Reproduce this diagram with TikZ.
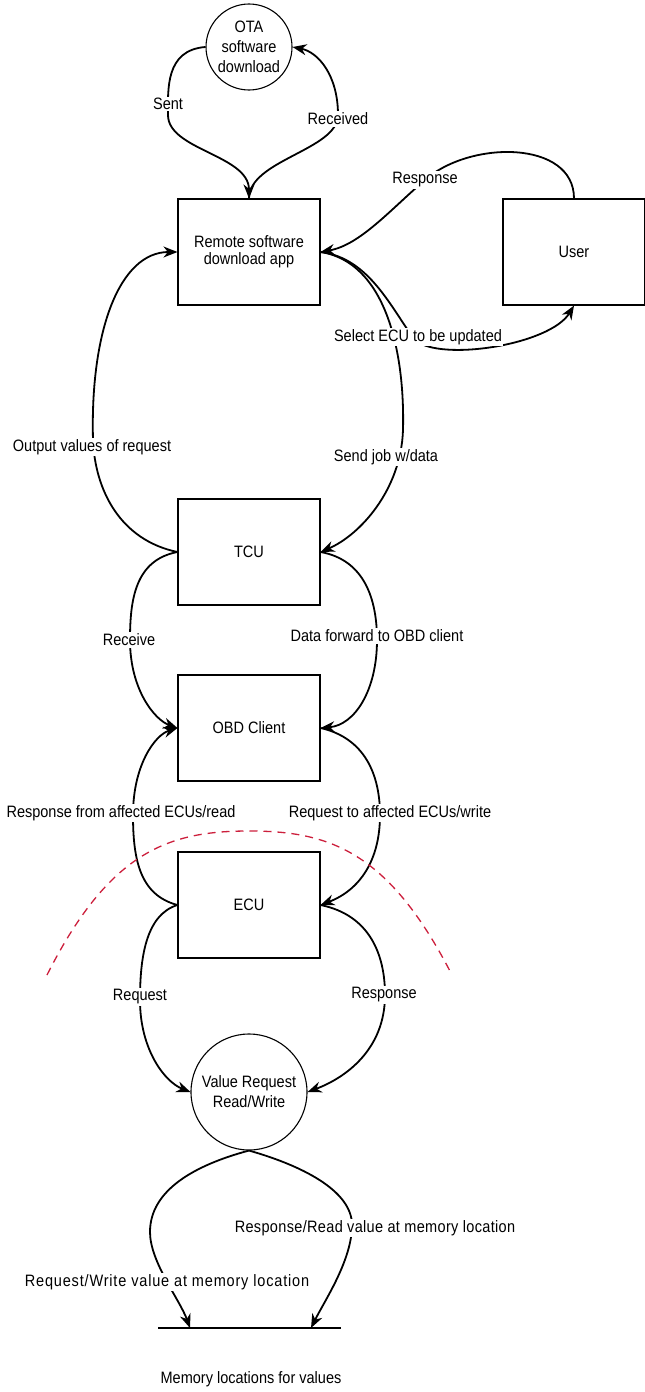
\documentclass[tikz,border=0pt]{standalone}
\usepackage{fontspec}
\setmainfont{Liberation Sans}[FakeStretch=0.88]
\usetikzlibrary{positioning,arrows.meta,backgrounds,calc}
\definecolor{boundary}{HTML}{CC1F3C}

\begin{document}
\begin{tikzpicture}[x=1pt,y=-1pt,
    font=\fontsize{16.5}{20}\selectfont,
    box/.style={draw,line width=1.1pt,fill=white,minimum width=142pt,minimum height=106pt,align=center,inner sep=0pt},
    proc/.style={draw,circle,line width=1.1pt,fill=white,align=center,inner sep=0pt},
    lbl/.style={fill=white,inner sep=1.5pt},
    flow/.style={line width=1.8pt,-{Stealth[length=14pt,width=11pt,inset=4.5pt]}}]
    \useasboundingbox (0,0) rectangle (645,1392);

    % nodes
    \node[proc,minimum size=86pt] (ota) at (249,47) {OTA\\software\\download};
    \node[box,font=\fontsize{16.5}{17}\selectfont] (remote) at (249,252) {Remote software\\download app};
    \node[box] (user) at (574,252) {User};
    \node[box] (tcu) at (249,552) {TCU};
    \node[box] (obd) at (249,728) {OBD Client};
    \node[box] (ecu) at (249,905) {ECU};
    \node[proc,minimum size=116pt] (value) at (249,1092) {Value Request\\Read/Write};

    % memory store
    \coordinate (memL) at (158,1328);
    \coordinate (memR) at (341,1328);
    \coordinate (memA) at (190,1328);
    \coordinate (memB) at (311,1328);
    \draw[line width=1.2pt] (memL) -- (memR);
    \node (memlbl) at (251,1379) {Memory locations for values};

    % labels
    \node[lbl] (lSent) at (168,104) {Sent};
    \node[lbl] (lRecd) at (338,119) {Received};
    \node[lbl] (lResp) at (425,180) {Response};
    \node[lbl] (lSel) at (418,337) {Select ECU to be updated};
    \node[lbl] (lOut) at (92,447) {Output values of request};
    \node[lbl] (lSend) at (386,457) {Send job w/data};
    \node[lbl] (lRecv) at (129,640) {Receive};
    \node[lbl] (lData) at (377,636) {Data forward to OBD client};
    \node[lbl] (lRead) at (121,813) {Response from affected ECUs/read};
    \node[lbl] (lWrite) at (390,813) {Request to affected ECUs/write};
    \node[lbl] (lReq) at (140,997) {Request};
    \node[lbl] (lRes) at (384,995) {Response};
    \node[lbl,font=\fontsize{16.5}{20}\selectfont\addfontfeatures{LetterSpace=2}] (lMemR) at (375,1228) {Response/Read value at memory location};
    \node[lbl,font=\fontsize{16.5}{20}\selectfont\addfontfeatures{LetterSpace=5}] (lMemW) at (167,1282) {Request/Write value at memory location};

    \begin{scope}[on background layer]
      % OTA <-> remote app
      \draw[flow] (ota.west) .. controls (165,50) and (168,90) .. (168,115) .. controls (168,150) and (249,155) .. (remote.north);
      \draw[flow] (remote.north) .. controls (249,160) and (338,150) .. (338,115) .. controls (338,75) and (318,52) .. (ota.east);

      % user <-> remote app
      \draw[flow] (user.north) .. controls (574,140) and (470,140) .. (425,180) .. controls (390,210) and (360,245) .. (remote.east);
      \draw[flow] (remote.east) .. controls (370,258) and (392,310) .. (415,340) .. controls (440,362) and (550,345) .. (user.south);

      % remote app <-> TCU
      \draw[flow] (remote.east) .. controls (385,262) and (405,350) .. (403,430) .. controls (401,490) and (360,535) .. (tcu.east);
      \draw[flow] (tcu.west) .. controls (120,540) and (95,490) .. (93,440) .. controls (90,330) and (120,252) .. (remote.west);

      % TCU -> OBD client
      \draw[flow] (tcu.west) .. controls (135,560) and (130,600) .. (130,640) .. controls (130,690) and (155,720) .. (obd.west);
      \draw[flow] (tcu.east) .. controls (365,560) and (377,600) .. (377,640) .. controls (377,690) and (355,725) .. (obd.east);

      % OBD client <-> ECU
      \draw[flow] (ecu.west) .. controls (140,895) and (133,860) .. (133,815) .. controls (133,765) and (155,735) .. (obd.west);
      \draw[flow] (obd.east) .. controls (365,738) and (380,775) .. (380,815) .. controls (380,860) and (360,890) .. (ecu.east);

      % ECU -> value request
      \draw[flow] (ecu.west) .. controls (145,915) and (140,960) .. (140,1000) .. controls (140,1050) and (165,1082) .. (value.west);
      \draw[flow] (ecu.east) .. controls (370,915) and (385,955) .. (385,995) .. controls (385,1050) and (345,1078) .. (value.east);

      % value request -> memory
      \draw[flow] (value.south) .. controls (195,1165) and (150,1190) .. (150,1232) .. controls (150,1262) and (180,1300) .. (memA);
      \draw[flow] (value.south) .. controls (300,1165) and (352,1190) .. (352,1225) .. controls (352,1260) and (325,1300) .. (memB);

      % trust boundary
      \draw[boundary,line width=1.3pt,dash pattern=on 8pt off 6pt] (47,975) .. controls (110,850) and (170,831) .. (249,831) .. controls (328,831) and (388,850) .. (452,975);
    \end{scope}
\end{tikzpicture}
\end{document}
